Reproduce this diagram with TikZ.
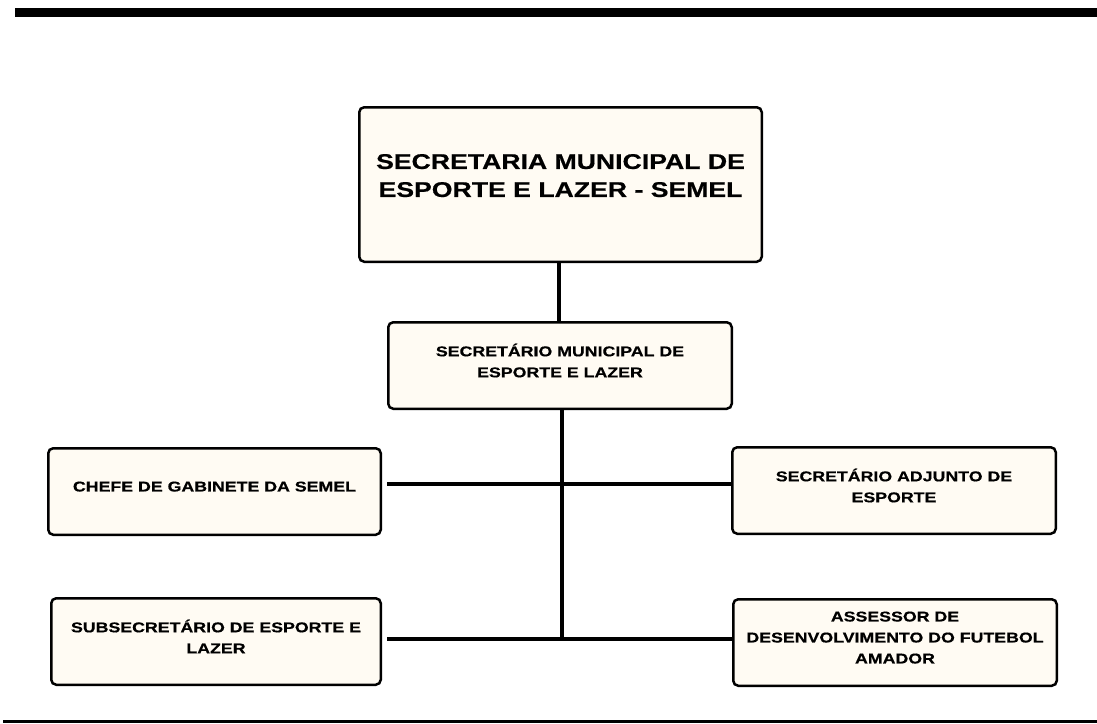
\documentclass[tikz,border=0pt]{standalone}
\usepackage{fontspec}
\usepackage{tikz}
\newfontfamily\orgfont{Liberation Sans}[FakeStretch=1.25,FakeBold=0.6]
\definecolor{boxcream}{RGB}{255,251,243}
\tikzset{orgbox/.style={draw, line width=2.5pt, rounded corners=5pt, fill=boxcream,
    align=center, inner sep=0pt, minimum height=86.5pt, text depth=10pt,
    font=\orgfont\bfseries\fontsize{14.2}{21}\selectfont},
  bigbox/.style={orgbox, minimum height=154.5pt, text depth=18pt,
    font=\orgfont\bfseries\fontsize{21.3}{28}\selectfont},
  link/.style={line width=4pt}}

\begin{document}
\begin{tikzpicture}[x=1pt,y=-1pt]
    \useasboundingbox (0,0) rectangle (1097,723);
    % page rules
    \fill (15,8) rectangle (1097,17);
    \draw[line width=2.5pt] (3,721.5) -- (1097,721.5);
    % boxes
    \node[bigbox, minimum width=402.5pt] (semel) at (560.5,184.5) {SECRETARIA MUNICIPAL DE\\ESPORTE E LAZER - SEMEL};
    \node[orgbox, minimum width=343.5pt] (secretario) at (560,365.5) {SECRETÁRIO MUNICIPAL DE\\ESPORTE E LAZER};
    \node[orgbox, minimum width=332.5pt] (chefe) at (214.5,491.5) {CHEFE DE GABINETE DA SEMEL};
    \node[orgbox, minimum width=329.5pt] (subsec) at (216,641.5) {SUBSECRETÁRIO DE ESPORTE E\\LAZER};
    \node[orgbox, minimum width=323.5pt] (adjunto) at (894,490.5) {SECRETÁRIO ADJUNTO DE\\ESPORTE};
    \node[orgbox, minimum width=323.5pt] (assessor) at (895,642.5) {ASSESSOR DE\\DESENVOLVIMENTO DO FUTEBOL\\AMADOR};
    % connectors
    \coordinate (j1) at (562,484);
    \coordinate (j2) at (562,639);
    \draw[link] (semel.south -| 559,0) -- (secretario.north -| 559,0);
    \draw[link] (secretario.south -| j1) -- (j2);
    \draw[link] ([xshift=5pt]chefe.east |- j1) -- (adjunto.west |- j1);
    \draw[link] ([xshift=5pt]subsec.east |- j2) -- (assessor.west |- j2);
\end{tikzpicture}
\end{document}
